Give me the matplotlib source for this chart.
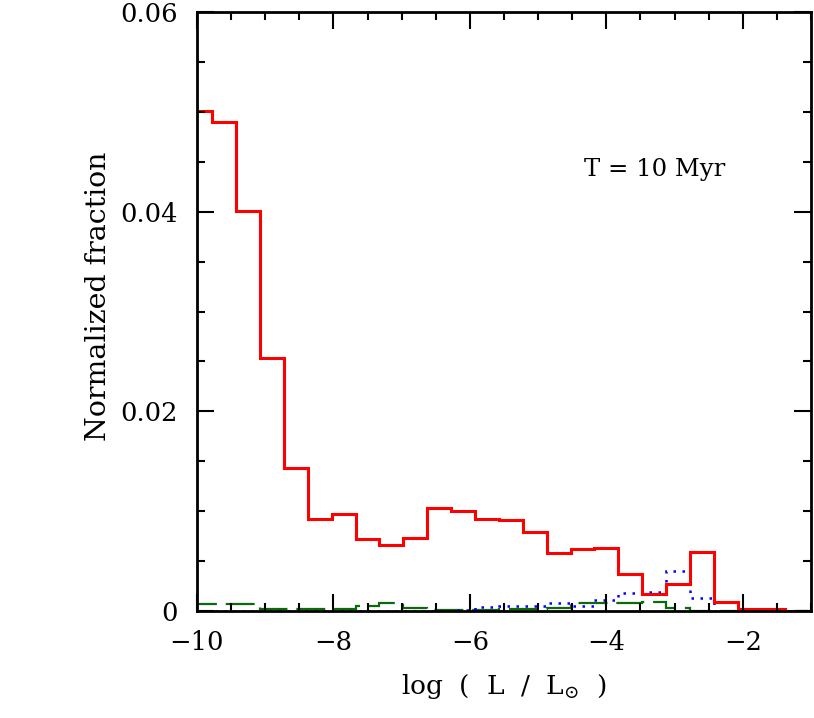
import numpy as np
import matplotlib
matplotlib.use("Agg")
import matplotlib.pyplot as plt
from matplotlib.ticker import MultipleLocator, FixedLocator

plt.rcParams['font.family'] = ['DejaVu Serif']
plt.rcParams['mathtext.fontset'] = 'dejavuserif'

# bin edges (log L/Lsun), width 0.35
bin_start = -10.125
bin_width = 0.35
n_bins = 26

red_vals = [0.0501, 0.0490, 0.0401, 0.0253, 0.0143, 0.0092, 0.0097, 0.0072,
            0.0066, 0.0073, 0.0103, 0.0100, 0.0092, 0.0091, 0.0079, 0.0058,
            0.0062, 0.0063, 0.0037, 0.0017, 0.0027, 0.0059, 0.0009, 0.0002,
            0.0002, 0.00005]
blue_vals = [0, 0, 0, 0, 0, 0, 0, 0,
             0, 0, 0, 0.0001, 0.0004, 0.0005, 0.0005, 0.0008,
             0.0005, 0.0011, 0.0018, 0.0019, 0.0040, 0.0013, 0, 0,
             0, 0]
green_vals = [0.00075, 0.00075, 0.0007, 0.0002, 0.0002, 0.0002, 0.0002, 0.0005,
              0.0008, 0.0003, 0.0001, 0.0001, 0.0001, 0.0002, 0.0002, 0.0003,
              0.0008, 0.0008, 0.0008, 0.0009, 0.0003, 0, 0, 0,
              0, 0]

x_ticks = [-10, -8, -6, -4, -2]
x_ticklabels = ['\u221210', '\u22128', '\u22126', '\u22124', '\u22122']
y_ticks = [0, 0.02, 0.04, 0.06]
y_ticklabels = ['0', '0.02', '0.04', '0.06']

edges = bin_start + bin_width * np.arange(n_bins + 1)

fig = plt.figure(figsize=(8.14, 7.18), dpi=100)
ax = fig.add_axes([0.242, 0.149, 0.7543, 0.8343])

ax.stairs(green_vals, edges, color='#0b6b0b', lw=1.6, linestyle=(0, (13, 4)), baseline=None)
ax.stairs(blue_vals, edges, color='#0000ff', lw=1.8, linestyle=(0, (1, 2.6)), baseline=None)
ax.stairs(red_vals, edges, color='#ff0000', lw=2.2, baseline=None)

ax.set_xlim(-10, -1)
ax.set_ylim(0, 0.06)

ax.xaxis.set_major_locator(FixedLocator(x_ticks))
ax.xaxis.set_minor_locator(MultipleLocator(0.5))
ax.yaxis.set_major_locator(FixedLocator(y_ticks))
ax.yaxis.set_minor_locator(MultipleLocator(0.005))
ax.set_yticklabels(y_ticklabels)
ax.set_xticklabels(x_ticklabels)

ax.tick_params(which='both', direction='in', top=True, right=True, width=1.5, labelsize=18.5)
ax.tick_params(which='major', length=12)
ax.tick_params(which='minor', length=6)
ax.tick_params(axis='x', which='major', pad=14)
ax.tick_params(axis='y', which='major', pad=14)
for s in ax.spines.values():
    s.set_linewidth(2)

ax.set_ylabel('Normalized fraction', fontsize=20.5)
ax.yaxis.set_label_coords(-0.138, 0.525)
ax.set_xlabel(r'log  (  L  /  L$_{\odot}$  )', fontsize=19, labelpad=12)

ax.text(-4.32, 0.0442, 'T = 10 Myr', fontsize=17.5, va='center', ha='left')

fig.savefig('out.png', dpi=100)
